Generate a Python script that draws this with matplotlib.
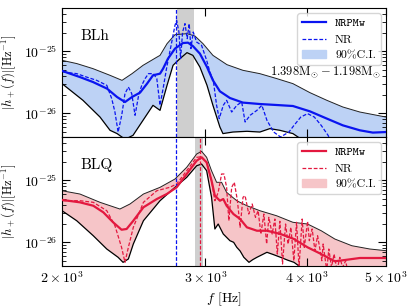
import numpy as np
import matplotlib
matplotlib.use("Agg")
import matplotlib.pyplot as plt
from matplotlib.lines import Line2D
from matplotlib.patches import Patch
from matplotlib.ticker import NullLocator, LogLocator, FixedLocator, FixedFormatter

plt.rcParams['font.family'] = 'serif'
plt.rcParams['font.serif'] = ['cmr10']
plt.rcParams['mathtext.fontset'] = 'cm'
plt.rcParams['axes.formatter.use_mathtext'] = True

# ---------------- data (frequency in Hz, log10 |h+| in Hz^-1) ----------------
# BLh panel
blh_med_f = [2000, 2104, 2183, 2272, 2337, 2390, 2438, 2494, 2544, 2587, 2639, 2662, 2699,
             2753, 2816, 2856, 2896, 2954, 3014, 3065, 3126, 3216, 3336, 3500, 3672, 3843,
             4032, 4230, 4426, 4644, 4818, 5000]
blh_med = [-25.315, -25.415, -25.495, -25.602, -25.737, -25.818, -25.737, -25.666, -25.521,
           -25.387, -25.360, -25.279, -25.118, -24.956, -24.866, -24.860, -24.915, -25.037,
           -25.253, -25.468, -25.645, -25.753, -25.827, -25.850, -25.866, -25.882, -25.968,
           -26.085, -26.194, -26.274, -26.311, -26.302]
blh_up_f = [2000, 2086, 2183, 2291, 2370, 2438, 2515, 2617, 2639, 2692, 2753, 2848, 2913,
            2980, 3065, 3189, 3336, 3500, 3672, 3843, 4032, 4230, 4426, 4644, 5000]
blh_up = [-25.145, -25.198, -25.279, -25.387, -25.468, -25.360, -25.226, -25.092, -25.065,
          -24.876, -24.731, -24.715, -24.753, -24.876, -25.065, -25.215, -25.306, -25.360,
          -25.440, -25.521, -25.666, -25.790, -25.898, -25.979, -26.060]
blh_lo_f = [2000, 2122, 2227, 2291, 2337, 2377, 2404, 2445, 2515, 2587, 2639, 2692, 2738,
            2792, 2848, 2896, 2954, 3014, 3065, 3126, 3153, 3243, 3375, 3500, 3600, 3704,
            3843, 3920, 4032, 5000]
blh_lo = [-25.521, -25.790, -26.060, -26.274, -26.327, -26.395, -26.403, -26.355, -26.113,
          -25.871, -25.952, -25.548, -25.226, -25.118, -25.021, -25.065, -25.253, -25.548,
          -25.871, -26.221, -26.327, -26.302, -26.290, -26.302, -26.247, -26.274, -26.327,
          -26.403, -26.516, -26.597]
blh_nr_f = [2007, 2085, 2144, 2206, 2270, 2302, 2323, 2344, 2368, 2390, 2413, 2436, 2459,
            2484, 2506, 2530, 2554, 2590, 2615, 2639, 2664, 2690, 2728, 2753, 2766, 2784,
            2797, 2813, 2832, 2850, 2866, 2880, 2899, 2927, 2968, 3011, 3039, 3068, 3097,
            3120, 3156, 3186, 3232, 3279, 3325, 3357, 3405, 3471, 3520, 3571, 3640, 3711,
            3800, 3855, 3930, 4006, 4083, 4163, 4245, 4286, 4350]
blh_nr = [-25.334, -25.360, -25.415, -25.468, -25.548, -25.763, -25.979, -26.302, -26.032,
          -25.682, -25.576, -25.682, -26.032, -25.710, -25.548, -25.440, -25.360, -25.360,
          -25.440, -25.871, -25.576, -25.253, -24.850, -24.581, -24.500, -24.689, -25.118,
          -24.689, -24.553, -24.795, -24.553, -24.956, -24.689, -24.850, -24.903, -25.145,
          -25.334, -25.468, -25.871, -26.085, -25.871, -25.790, -25.979, -25.871, -25.818,
          -26.140, -26.032, -25.952, -25.871, -26.113, -26.302, -26.382, -26.302, -26.194,
          -26.060, -26.005, -26.060, -26.194, -26.355, -26.463, -26.597]

# BLQ panel
blq_med_f = [2005, 2104, 2185, 2248, 2311, 2367, 2401, 2447, 2518, 2615, 2690, 2766, 2846,
             2927, 2968, 3011, 3053, 3082, 3126, 3156, 3186, 3248, 3310, 3374, 3471, 3571,
             3711, 3855, 4006, 4163, 4327, 4454, 4644, 5000]
blq_med = [-25.318, -25.355, -25.410, -25.516, -25.677, -25.797, -25.785, -25.652, -25.435,
           -25.302, -25.221, -25.113, -24.898, -24.684, -24.629, -24.710, -25.006, -25.248,
           -25.329, -25.302, -25.410, -25.544, -25.624, -25.758, -25.813, -25.813, -25.866,
           -25.947, -26.081, -26.189, -26.306, -26.285, -26.253, -26.253]
blq_up_f = [2000, 2104, 2227, 2356, 2424, 2518, 2639, 2753, 2846, 2927, 2968, 3011, 3053,
            3097, 3141, 3186, 3279, 3374, 3500, 3669, 3843, 4006, 4163, 4327, 4540, 4777, 5000]
blq_up = [-25.168, -25.221, -25.355, -25.463, -25.382, -25.221, -25.113, -24.979, -24.790,
          -24.576, -24.532, -24.629, -24.845, -25.032, -25.032, -25.194, -25.329, -25.410,
          -25.490, -25.571, -25.677, -25.705, -25.813, -25.947, -26.055, -26.108, -26.135]
blq_lo_f = [2000, 2085, 2185, 2270, 2344, 2377, 2413, 2447, 2518, 2639, 2753, 2846, 2927,
            2968, 3011, 3053, 3082, 3111, 3156, 3216, 3250, 3279, 3310, 3345, 3394, 3430,
            3471, 3571, 3640, 3711, 3790, 3855, 3930, 4032, 5000]
blq_lo = [-25.490, -25.652, -25.894, -26.108, -26.242, -26.323, -26.269, -26.027, -25.652,
          -25.329, -25.113, -24.952, -24.765, -24.737, -24.845, -25.274, -25.785, -25.705,
          -25.866, -25.974, -26.000, -26.081, -26.140, -26.242, -26.323, -26.280, -26.242,
          -26.161, -26.200, -26.242, -26.290, -26.323, -26.403, -26.479, -26.608]
blq_nr_f = [2005, 2104, 2185, 2270, 2323, 2367, 2390, 2413, 2447, 2518, 2615, 2712, 2766,
            2846, 2927, 2968, 3011, 3053, 3082, 3111, 3141, 3162, 3186, 3206, 3232, 3256,
            3285, 3310, 3337, 3357, 3392, 3425, 3457, 3483, 3510, 3540, 3568, 3590, 3624,
            3652, 3677, 3704, 3732, 3764, 3791, 3821, 3853, 3883, 3910, 3945, 3969, 4006,
            4026, 4058, 4090, 4121, 4171, 4186, 4229, 4254, 4286, 4318, 4354, 4388, 4423,
            4461, 4494]
blq_nr = [-25.329, -25.329, -25.355, -25.490, -25.732, -26.081, -26.323, -26.081, -25.758,
          -25.355, -25.168, -25.113, -25.060, -24.845, -24.629, -24.619, -24.710, -25.006,
          -25.329, -25.194, -24.898, -24.898, -25.113, -25.652, -25.113, -25.032, -25.329,
          -25.758, -25.274, -25.248, -25.544, -25.382, -25.597, -25.490, -25.866, -25.544,
          -26.027, -25.597, -25.866, -25.624, -26.189, -25.661, -26.350, -25.705, -26.027,
          -25.758, -26.297, -25.677, -26.403, -25.624, -26.081, -25.661, -25.974, -25.785,
          -26.135, -25.894, -26.297, -26.027, -26.458, -26.108, -26.403, -26.189, -26.458,
          -26.242, -26.403, -26.297, -26.511]

# vertical markers (Hz)
f_blue_line = 2761
blh_band = (2767, 2907)
blq_band = (2916, 2977)
f_red_line = 2957

xticks = [2000, 3000, 4000, 5000]
xticklabels = [r'$2\times10^{3}$', r'$3\times10^{3}$', r'$4\times10^{3}$', r'$5\times10^{3}$']
yticks = [1e-26, 1e-25]
yticklabels = [r'$10^{-26}$', r'$10^{-25}$']

# ---------------- figure ----------------
fig, (ax1, ax2) = plt.subplots(2, 1, figsize=(4.15, 3.08), dpi=100, sharex=True)
fig.subplots_adjust(left=0.1494, right=0.930, top=0.974, bottom=0.1364, hspace=0)

blue = '#0a14f0'
blue_fill = '#bdd2f5'
red = '#e3183f'
red_fill = '#f6c5c8'

def p(a):
    return 10 ** np.asarray(a)

def panel(ax, med_f, med, up_f, up, lo_f, lo, nr_f, nr, col, fillcol, name):
    poly_f = np.concatenate([up_f, lo_f[::-1]])
    poly_h = np.concatenate([p(up), p(lo)[::-1]])
    ax.fill(poly_f, poly_h, color=fillcol, lw=0, zorder=1)
    ax.plot(up_f, p(up), color='#222222', lw=0.7, zorder=2)
    ax.plot(lo_f, p(lo), color='black', lw=0.9, zorder=2)
    ax.plot(med_f, p(med), color=col, lw=1.6, zorder=4)
    ax.plot(nr_f, p(nr), color=col, lw=0.9, ls=(0, (3, 1.5)), zorder=3)
    ax.set_xscale('log')
    ax.set_yscale('log')
    ax.set_xlim(2000, 5000)
    ax.set_ylim(4.15e-27, 5e-25)
    ax.yaxis.set_major_locator(FixedLocator(yticks))
    ax.yaxis.set_major_formatter(FixedFormatter(yticklabels))
    ax.yaxis.set_minor_locator(LogLocator(base=10, subs=np.arange(2, 10)))
    ax.set_ylabel(r'$|h_+(f)|[\mathrm{Hz}^{-1}]$', fontsize=9)
    ax.yaxis.set_label_coords(-0.135, 0.5)
    ax.text(0.056, 0.783, name, transform=ax.transAxes, fontsize=11, va='center', ha='left')
    ax.tick_params(which='both', direction='in', top=True, right=True, labelsize=10)
    ax.tick_params(which='major', length=6, width=0.8)
    ax.tick_params(which='minor', length=3, width=0.6)
    handles = [Line2D([], [], color=col, lw=1.6),
               Line2D([], [], color=col, lw=0.9, ls=(0, (3, 1.5))),
               Patch(facecolor=fillcol, edgecolor=fillcol)]
    leg = ax.legend(handles, ['NRPMw', 'NR', '90%C.I.'], loc='upper right', fontsize=8.5,
                    handlelength=2.0, borderaxespad=0.45, labelspacing=0.45, borderpad=0.4)
    leg.get_texts()[0].set_fontfamily('cmtt10')
    leg.set_zorder(10)

panel(ax1, blh_med_f, blh_med, blh_up_f, blh_up, blh_lo_f, blh_lo, blh_nr_f, blh_nr,
      blue, blue_fill, 'BLh')
panel(ax2, blq_med_f, blq_med, blq_up_f, blq_up, blq_lo_f, blq_lo, blq_nr_f, blq_nr,
      red, red_fill, 'BLQ')

ax1.axvspan(*blh_band, color='#b0b0b0', alpha=0.6, lw=0, zorder=0.5)
ax2.axvspan(*blq_band, color='#b0b0b0', alpha=0.6, lw=0, zorder=0.5)
for ax in (ax1, ax2):
    ax.axvline(f_blue_line, color=blue, lw=0.9, ls=(0, (3, 1.5)), zorder=3)
ax2.axvline(f_red_line, color=red, lw=0.9, ls=(0, (3, 1.5)), zorder=3)

ax1.text(0.985, 0.50, r'$1.398\mathrm{M}_{\odot}-1.198\mathrm{M}_{\odot}$',
         transform=ax1.transAxes, ha='right', va='center', fontsize=9)

ax2.set_xticks(xticks)
ax2.set_xticklabels(xticklabels)
ax2.xaxis.set_minor_locator(NullLocator())
ax2.set_xlabel(r'$f$ [Hz]', fontsize=10, labelpad=3)

fig.savefig('out.png', dpi=100)
